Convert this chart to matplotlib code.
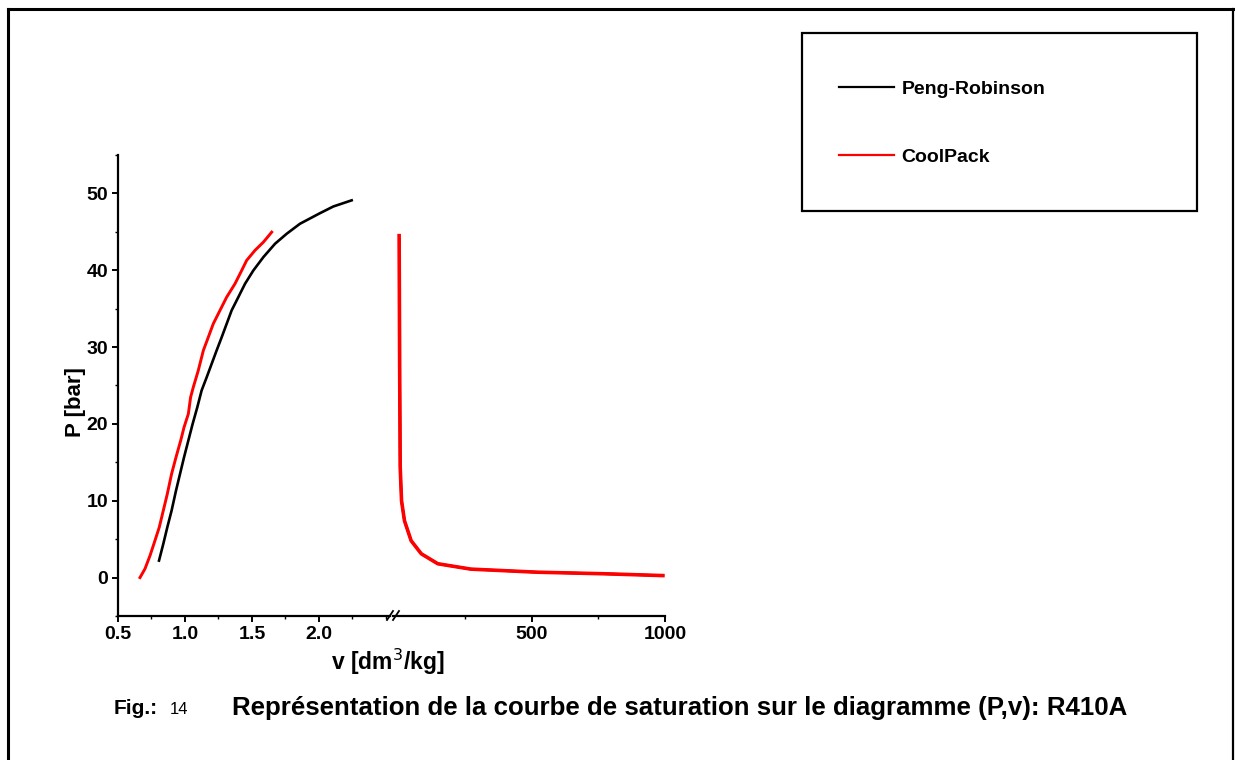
import matplotlib
matplotlib.use("Agg")
import matplotlib.pyplot as plt
from matplotlib.lines import Line2D
from matplotlib.patches import Rectangle
from matplotlib.ticker import MultipleLocator, FixedLocator

plt.rcParams['font.family'] = ['Liberation Sans', 'DejaVu Sans']

# ---- data ----
pr_liq_v = [0.806, 0.838, 0.868, 0.900, 0.933, 0.963, 0.993, 1.025, 1.057, 1.092, 1.124,
            1.162, 1.199, 1.236, 1.274, 1.311, 1.348, 1.398, 1.448, 1.51, 1.585, 1.672,
            1.759, 1.858, 2.0, 2.107, 2.244]
pr_liq_p = [2.21, 4.38, 6.55, 8.72, 11.33, 13.5, 15.67, 17.84, 20.0, 22.18, 24.35,
            26.08, 27.82, 29.56, 31.29, 33.03, 34.77, 36.5, 38.24, 39.97, 41.71, 43.45,
            44.75, 46.05, 47.36, 48.3, 49.1]

cp_liq_v = [0.664, 0.701, 0.739, 0.776, 0.808, 0.838, 0.868, 0.900, 0.933, 0.968, 0.993,
            1.025, 1.042, 1.062, 1.099, 1.137, 1.174, 1.211, 1.261, 1.311, 1.373, 1.423,
            1.46, 1.522, 1.585, 1.647]
cp_liq_p = [0.0, 1.13, 2.86, 4.82, 6.55, 8.72, 10.89, 13.5, 15.67, 17.84, 19.57,
            21.31, 23.48, 24.78, 26.95, 29.56, 31.29, 33.03, 34.77, 36.5, 38.24, 39.97,
            41.28, 42.58, 43.66, 44.96]

pr_vap_v = [4, 5, 7, 12, 23, 48, 86, 148, 272, 521, 769, 992]
pr_vap_p = [44.0, 27.4, 14.4, 10.0, 7.4, 4.8, 3.1, 1.8, 1.1, 0.7, 0.5, 0.26]

cp_vap_v = [3, 5, 7, 12, 23, 48, 86, 148, 272, 521, 769, 992]
cp_vap_p = [44.5, 27.4, 14.4, 10.0, 7.4, 4.8, 3.1, 1.8, 1.1, 0.7, 0.5, 0.26]

left_ticks = [0.5, 1.0, 1.5, 2.0]
left_ticklabels = ["0.5", "1.0", "1.5", "2.0"]
right_ticks = [500, 1000]
right_ticklabels = ["500", "1000"]
y_ticks = [0, 10, 20, 30, 40, 50]

series_names = ["Peng-Robinson", "CoolPack"]
series_colors = ["#000000", "#ff0000"]

caption_fig = "Fig.:"
caption_num = "14"
caption_text = "Représentation de la courbe de saturation sur le diagramme (P,v): R410A"

# ---- figure ----
W, H = 1235, 760
fig = plt.figure(figsize=(W / 100, H / 100), dpi=100)
fig.patch.set_facecolor("white")

def fx(px):
    return px / W

def fy(py):
    return 1 - py / H

TICK_FS = 14
ax_top, ax_bot = 155, 616
ax1 = fig.add_axes([fx(118), fy(ax_bot), fx(390 - 118), (ax_bot - ax_top) / H])
ax2 = fig.add_axes([fx(393), fy(ax_bot), fx(665 - 393), (ax_bot - ax_top) / H], sharey=ax1)

for ax in (ax1, ax2):
    ax.set_facecolor("none")
    ax.spines['top'].set_visible(False)
    ax.spines['right'].set_visible(False)
    for s in ('left', 'bottom'):
        ax.spines[s].set_linewidth(1.6)
    ax.tick_params(axis='both', which='major', direction='out', length=4, width=1.4,
                   labelsize=TICK_FS, pad=3)
    ax.tick_params(axis='both', which='minor', direction='out', length=2, width=1.0)

ax2.spines['left'].set_visible(False)
ax2.tick_params(axis='y', which='both', left=False, labelleft=False)

ax1.set_ylim(-5, 55)
ax1.set_yticks(y_ticks)
ax1.yaxis.set_minor_locator(MultipleLocator(5))
ax1.set_yticklabels([str(t) for t in y_ticks], fontweight='bold', fontsize=TICK_FS)
ax1.set_xlim(0.5, 2.53)
ax1.set_xticks(left_ticks)
ax1.set_xticklabels(left_ticklabels, fontweight='bold', fontsize=TICK_FS)
ax1.xaxis.set_minor_locator(MultipleLocator(0.25))

ax2.set_xlim(-20, 1000)
ax2.set_xticks(right_ticks)
ax2.set_xticklabels(right_ticklabels, fontweight='bold', fontsize=TICK_FS)
ax2.xaxis.set_minor_locator(FixedLocator([250, 750]))

# curves
l_pr, = ax1.plot(pr_liq_v, pr_liq_p, color=series_colors[0], lw=1.9)
l_cp, = ax1.plot(cp_liq_v, cp_liq_p, color=series_colors[1], lw=2.1)
ax2.plot(pr_vap_v, pr_vap_p, color=series_colors[0], lw=1.8)
ax2.plot(cp_vap_v, cp_vap_p, color=series_colors[1], lw=2.6)
for ax in (ax1, ax2):
    for ln in ax.lines:
        ln.set_clip_on(False)

# axis break marks
for x0 in (387, 393):
    fig.add_artist(Line2D([fx(x0), fx(x0 + 6)], [fy(620), fy(611)], color='black', lw=1.3))

# axis labels
fig.text(fx(75), fy(402), "P [bar]", rotation=90, ha='center', va='center',
         fontsize=16, fontweight='bold')
fig.text(fx(388), fy(662), "v [dm$^3$/kg]", ha='center', va='center',
         fontsize=16.5, fontweight='bold')

# legend box
fig.add_artist(Rectangle((fx(802), fy(211)), fx(1197 - 802), (211 - 33) / H,
                         transform=fig.transFigure, fill=False, edgecolor='black', lw=1.6))
leg = fig.legend([l_pr, l_cp], series_names, loc='center left',
                 bbox_to_anchor=(fx(821), fy(123)), frameon=False,
                 handlelength=2.85, handletextpad=0.4, labelspacing=2.62,
                 prop={'weight': 'bold', 'size': 14})
for h in leg.get_lines():
    h.set_linewidth(1.6)

# caption
fig.text(fx(114), fy(708), caption_fig, ha='left', va='center', fontsize=15, fontweight='bold')
fig.text(fx(170), fy(709), caption_num, ha='left', va='center', fontsize=12)
fig.text(fx(232), fy(708), caption_text, ha='left', va='center', fontsize=18.6, fontweight='bold')

# outer frame
fig.add_artist(Line2D([fx(8), fx(8)], [fy(9), 0], color='black', lw=2.2))
fig.add_artist(Line2D([fx(8), fx(1233)], [fy(9), fy(9)], color='black', lw=2.2))
fig.add_artist(Line2D([fx(1233), fx(1233)], [fy(9), 0], color='black', lw=1.6))

fig.savefig("out.png", dpi=100, facecolor='white')
